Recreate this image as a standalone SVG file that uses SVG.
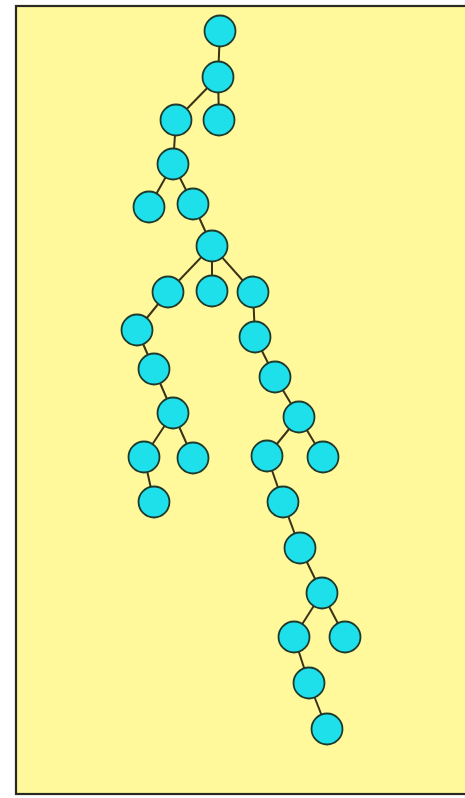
<svg xmlns="http://www.w3.org/2000/svg" width="465" height="798" viewBox="0 0 465 798">
<style>
.n{fill:#1EE0EA;stroke:#1E3A2C;stroke-width:1.8}
.e{stroke:#3A3216;stroke-width:2;fill:none}
</style>
<rect x="0" y="0" width="465" height="798" fill="#ffffff"/>
<rect id="frame" x="16" y="6" width="460" height="788" fill="#FFF99C" stroke="#2A2A22" stroke-width="2.2"/>
<g id="connectors">
<line class="e" x1="220" y1="31" x2="218" y2="77"/>
<line class="e" x1="218" y1="77" x2="176" y2="120"/>
<line class="e" x1="218" y1="77" x2="219" y2="120"/>
<line class="e" x1="176" y1="120" x2="173" y2="164"/>
<line class="e" x1="173" y1="164" x2="149" y2="207"/>
<line class="e" x1="173" y1="164" x2="193" y2="204"/>
<line class="e" x1="193" y1="204" x2="212" y2="246"/>
<line class="e" x1="212" y1="246" x2="168" y2="292"/>
<line class="e" x1="212" y1="246" x2="212" y2="291"/>
<line class="e" x1="212" y1="246" x2="253" y2="292"/>
<line class="e" x1="168" y1="292" x2="137" y2="330"/>
<line class="e" x1="137" y1="330" x2="154" y2="369"/>
<line class="e" x1="154" y1="369" x2="173" y2="413"/>
<line class="e" x1="173" y1="413" x2="144" y2="457"/>
<line class="e" x1="173" y1="413" x2="193" y2="458"/>
<line class="e" x1="144" y1="457" x2="154" y2="502"/>
<line class="e" x1="253" y1="292" x2="255" y2="337"/>
<line class="e" x1="255" y1="337" x2="275" y2="377"/>
<line class="e" x1="275" y1="377" x2="299" y2="417"/>
<line class="e" x1="299" y1="417" x2="267" y2="456"/>
<line class="e" x1="299" y1="417" x2="323" y2="457"/>
<line class="e" x1="267" y1="456" x2="283" y2="502"/>
<line class="e" x1="283" y1="502" x2="300" y2="548"/>
<line class="e" x1="300" y1="548" x2="322" y2="593"/>
<line class="e" x1="322" y1="593" x2="294" y2="637"/>
<line class="e" x1="322" y1="593" x2="345" y2="637"/>
<line class="e" x1="294" y1="637" x2="309" y2="683"/>
<line class="e" x1="309" y1="683" x2="327" y2="729"/>
</g>
<g id="n1"><circle class="n" cx="220" cy="31" r="15.5"/></g>
<g id="n2"><circle class="n" cx="218" cy="77" r="15.5"/></g>
<g id="n3"><circle class="n" cx="176" cy="120" r="15.5"/></g>
<g id="n4"><circle class="n" cx="219" cy="120" r="15.5"/></g>
<g id="n5"><circle class="n" cx="173" cy="164" r="15.5"/></g>
<g id="n6"><circle class="n" cx="149" cy="207" r="15.5"/></g>
<g id="n7"><circle class="n" cx="193" cy="204" r="15.5"/></g>
<g id="n8"><circle class="n" cx="212" cy="246" r="15.5"/></g>
<g id="n9"><circle class="n" cx="168" cy="292" r="15.5"/></g>
<g id="n10"><circle class="n" cx="212" cy="291" r="15.5"/></g>
<g id="n11"><circle class="n" cx="253" cy="292" r="15.5"/></g>
<g id="n12"><circle class="n" cx="137" cy="330" r="15.5"/></g>
<g id="n13"><circle class="n" cx="255" cy="337" r="15.5"/></g>
<g id="n14"><circle class="n" cx="154" cy="369" r="15.5"/></g>
<g id="n15"><circle class="n" cx="275" cy="377" r="15.5"/></g>
<g id="n16"><circle class="n" cx="173" cy="413" r="15.5"/></g>
<g id="n17"><circle class="n" cx="299" cy="417" r="15.5"/></g>
<g id="n18"><circle class="n" cx="144" cy="457" r="15.5"/></g>
<g id="n19"><circle class="n" cx="193" cy="458" r="15.5"/></g>
<g id="n20"><circle class="n" cx="267" cy="456" r="15.5"/></g>
<g id="n21"><circle class="n" cx="323" cy="457" r="15.5"/></g>
<g id="n22"><circle class="n" cx="154" cy="502" r="15.5"/></g>
<g id="n23"><circle class="n" cx="283" cy="502" r="15.5"/></g>
<g id="n24"><circle class="n" cx="300" cy="548" r="15.5"/></g>
<g id="n25"><circle class="n" cx="322" cy="593" r="15.5"/></g>
<g id="n26"><circle class="n" cx="294" cy="637" r="15.5"/></g>
<g id="n27"><circle class="n" cx="345" cy="637" r="15.5"/></g>
<g id="n28"><circle class="n" cx="309" cy="683" r="15.5"/></g>
<g id="n29"><circle class="n" cx="327" cy="729" r="15.5"/></g>
</svg>
